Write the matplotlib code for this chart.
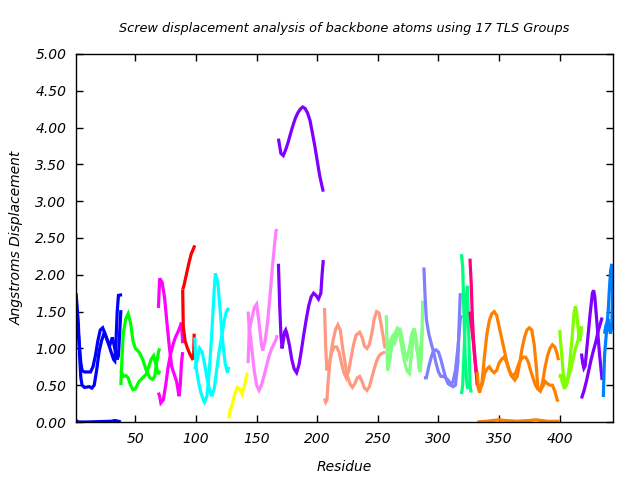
import matplotlib
matplotlib.use("Agg")
import matplotlib.pyplot as plt

# screw displacement per residue, (residue, angstroms)
# three principal screw axes per TLS group, when visible
g01_a = [(1, 1.75), (2, 1.55), (3, 1.3), (4, 0.9), (5, 0.6), (6, 0.5), (8, 0.47), (12, 0.48), (14, 0.46),
         (16, 0.5), (18, 0.7), (20, 0.95), (22, 1.1), (24, 1.2), (26, 1.15), (28, 1.05), (30, 0.95),
         (32, 0.85), (33, 0.83), (34, 1.1), (35, 1.5), (36, 1.72), (39, 1.73)]
g01_b = [(1, 1.55), (2, 1.5), (3, 1.2), (4, 1.0), (5, 0.8), (6, 0.7), (8, 0.68), (13, 0.68), (15, 0.75),
         (17, 0.9), (19, 1.1), (21, 1.25), (23, 1.28), (25, 1.2), (27, 1.1), (29, 1.05), (31, 1.15),
         (33, 1.0), (35, 0.85), (36, 0.9), (37, 1.2), (38, 1.52)]
g01_c = [(1, 0.02), (3, 0.0), (10, 0.0), (30, 0.01), (33, 0.02), (36, 0.01), (38, 0.0)]

g02_a = [(38, 0.5), (39, 0.9), (40, 1.2), (42, 1.4), (44, 1.47), (46, 1.35), (48, 1.1), (50, 1.0), (53, 0.95),
         (56, 0.85), (59, 0.7), (62, 0.6), (64, 0.58), (66, 0.62), (67, 0.75), (68, 0.85), (69, 0.95), (70, 1.0)]
g02_b = [(38, 0.7), (40, 0.62), (42, 0.63), (44, 0.6), (46, 0.5), (48, 0.44), (50, 0.45), (53, 0.55),
         (56, 0.6), (59, 0.65), (61, 0.75), (63, 0.85), (65, 0.9), (67, 0.78), (68, 0.7), (69, 0.65), (70, 0.7)]

g03_a = [(69, 1.55), (70, 1.95), (72, 1.9), (74, 1.7), (76, 1.35), (78, 1.02), (80, 0.75), (82, 0.65),
         (84, 0.55), (86, 0.35), (87, 0.5), (88, 0.8), (89, 0.95)]
g03_b = [(69, 0.4), (70, 0.35), (71, 0.26), (73, 0.3), (75, 0.5), (77, 0.75), (79, 0.92), (81, 1.05),
         (83, 1.15), (85, 1.22), (87, 1.3), (88, 1.35), (89, 1.07)]

g04_a = [(89, 1.8), (90, 1.85), (92, 2.0), (94, 2.15), (96, 2.28), (99, 2.4)]
g04_b = [(89, 1.8), (89.5, 1.3), (91, 1.1), (93, 1.0), (95, 0.92), (97, 0.86), (98, 0.87), (98.5, 1.2)]

g05_a = [(99, 1.15), (100, 0.75), (102, 0.55), (104, 0.4), (106, 0.3), (107, 0.27), (109, 0.35), (111, 0.7),
         (113, 1.2), (115, 1.8), (116, 2.02), (118, 1.9), (120, 1.5), (122, 1.1), (124, 0.8), (126, 0.67),
         (127, 0.75)]
g05_b = [(99, 0.72), (101, 0.85), (103, 1.0), (105, 0.95), (107, 0.8), (109, 0.6), (111, 0.45), (113, 0.35),
         (115, 0.45), (117, 0.7), (119, 0.95), (121, 1.15), (123, 1.35), (125, 1.5), (127, 1.55)]

g06_a = [(127, 0.05), (128, 0.15), (130, 0.25), (132, 0.38), (134, 0.47), (136, 0.45), (138, 0.38),
         (140, 0.5), (142, 0.65), (143, 0.66)]

g07_a = [(143, 1.5), (144, 1.25), (146, 1.4), (148, 1.55), (150, 1.6), (152, 1.35), (154, 1.05), (155, 0.97),
         (157, 1.1), (159, 1.35), (161, 1.7), (163, 2.1), (165, 2.45), (166, 2.6), (167, 2.62)]
g07_b = [(143, 0.8), (144, 1.3), (146, 1.0), (148, 0.7), (150, 0.5), (152, 0.43), (154, 0.5), (156, 0.62),
         (158, 0.75), (160, 0.88), (162, 0.98), (164, 1.05), (166, 1.12), (167, 1.18)]

g08_a = [(168, 3.85), (169, 3.75), (170, 3.65), (172, 3.62), (174, 3.7), (176, 3.8), (178, 3.92), (180, 4.03),
         (182, 4.13), (184, 4.2), (186, 4.25), (188, 4.28), (190, 4.26), (192, 4.2), (194, 4.1), (196, 3.93),
         (198, 3.75), (200, 3.55), (202, 3.35), (204, 3.2), (205, 3.13)]
g08_b = [(168, 2.15), (169, 1.6), (170, 1.2), (171, 1.0), (172, 1.1), (173, 1.22), (174, 1.25), (175, 1.2),
         (177, 1.05), (179, 0.85), (181, 0.72), (183, 0.67), (185, 0.78), (187, 0.98), (189, 1.2), (191, 1.4),
         (193, 1.58), (195, 1.7), (197, 1.75), (199, 1.72), (201, 1.67), (203, 1.75), (204, 2.0), (205, 2.2)]

g09_a = [(206, 1.55), (207, 1.0), (208, 0.7), (210, 0.8), (212, 0.95), (214, 1.02), (216, 1.02), (218, 0.95),
         (220, 0.8), (222, 0.67), (224, 0.6), (226, 0.7), (228, 0.88), (230, 1.05), (232, 1.18), (235, 1.22),
         (237, 1.15), (239, 1.03), (241, 1.0), (243, 1.05), (245, 1.2), (247, 1.4), (249, 1.5), (251, 1.48),
         (253, 1.3), (255, 1.1), (256, 1.0)]
g09_b = [(206, 0.32), (207, 0.27), (208, 0.3), (209, 0.55), (211, 0.9), (213, 1.1), (215, 1.25), (217, 1.32),
         (219, 1.25), (221, 1.0), (223, 0.8), (225, 0.62), (227, 0.52), (229, 0.47), (231, 0.52), (233, 0.6),
         (235, 0.62), (237, 0.55), (239, 0.46), (241, 0.43), (243, 0.48), (245, 0.6), (247, 0.72), (249, 0.83),
         (251, 0.9), (253, 0.93), (256, 0.95)]

g10_a = [(257, 1.45), (258, 0.7), (260, 0.85), (262, 1.1), (264, 1.2), (266, 1.27), (268, 1.2), (270, 1.0),
         (272, 0.82), (274, 0.7), (276, 0.66), (278, 0.95), (280, 1.27), (282, 1.1), (284, 0.72), (285, 0.68),
         (286, 0.9), (287, 1.65)]
g10_b = [(258, 0.95), (260, 1.1), (262, 1.16), (264, 1.08), (266, 1.18), (268, 1.28), (270, 1.15), (272, 0.95),
         (274, 0.87), (276, 1.0), (278, 1.2), (280, 1.27), (282, 1.0), (284, 0.85), (286, 1.1), (287, 1.3)]

g11_a = [(288, 2.1), (289, 1.7), (290, 1.4), (292, 1.2), (294, 1.07), (296, 0.95), (298, 0.8), (300, 0.68),
         (302, 0.62), (304, 0.62), (306, 0.6), (308, 0.57), (310, 0.52), (312, 0.48), (314, 0.5), (316, 0.8),
         (317, 1.3), (318, 1.75)]
g11_b = [(288, 0.6), (290, 0.6), (292, 0.75), (294, 0.88), (296, 0.97), (298, 0.98), (300, 0.95), (302, 0.85),
         (304, 0.72), (306, 0.6), (308, 0.52), (310, 0.5), (312, 0.55), (314, 0.7), (316, 1.0), (318, 1.4),
         (319, 1.45)]

g12_a = [(319, 2.28), (320, 2.1), (321, 1.5), (322, 0.9), (323, 0.6), (324, 0.45), (325, 0.55)]
g12_b = [(319, 0.38), (320, 0.5), (321, 0.9), (322, 1.3), (323, 1.7), (324, 1.85), (325, 1.2), (326, 0.5),
         (327, 0.4)]

g13_a = [(326, 2.22), (327, 1.9), (328, 1.4), (329, 1.1), (330, 0.9), (331, 0.7), (332, 0.5)]
g13_b = [(326, 1.5), (327, 1.35), (328, 1.2), (329, 1.05), (330, 0.85), (331, 0.7), (332, 0.6)]

g14_a = [(332, 0.68), (333, 0.45), (334, 0.4), (336, 0.55), (338, 0.9), (340, 1.2), (342, 1.38), (344, 1.47),
         (346, 1.5), (348, 1.45), (350, 1.3), (352, 1.15), (354, 1.0), (356, 0.85), (358, 0.72), (360, 0.63),
         (363, 0.57), (365, 0.62), (367, 0.8), (369, 1.0), (371, 1.15), (373, 1.25), (375, 1.28), (377, 1.25),
         (379, 1.05), (381, 0.7), (382, 0.45), (384, 0.42), (386, 0.55), (388, 0.75), (390, 0.9), (392, 1.0),
         (394, 1.05), (396, 1.02), (398, 0.92), (399, 0.84)]
g14_b = [(332, 0.5), (334, 0.45), (336, 0.5), (338, 0.65), (340, 0.72), (342, 0.75), (344, 0.7), (346, 0.67),
         (348, 0.7), (350, 0.8), (352, 0.85), (354, 0.88), (356, 0.82), (358, 0.72), (360, 0.65), (362, 0.63),
         (364, 0.68), (366, 0.78), (368, 0.85), (370, 0.88), (372, 0.88), (374, 0.82), (376, 0.7), (378, 0.6),
         (380, 0.5), (382, 0.45), (384, 0.43), (386, 0.48), (388, 0.55), (390, 0.52), (392, 0.5), (394, 0.5),
         (396, 0.42), (398, 0.3), (399, 0.28)]
g14_c = [(332, 0.0), (340, 0.01), (345, 0.02), (350, 0.03), (355, 0.02), (365, 0.01), (375, 0.02),
         (380, 0.03), (390, 0.01), (400, 0.01)]

g15_a = [(400, 1.25), (401, 1.05), (402, 0.85), (403, 0.65), (405, 0.48), (406, 0.52), (408, 0.75), (410, 1.1),
         (412, 1.5), (413, 1.57), (414, 1.5), (415, 1.3), (416, 1.15), (417, 1.1), (418, 1.3)]
g15_b = [(400, 0.6), (401, 0.65), (402, 0.55), (404, 0.45), (405, 0.5), (407, 0.6), (409, 0.7), (411, 0.85),
         (413, 1.0), (415, 1.1), (417, 1.25), (418, 1.3)]

g16_a = [(418, 0.93), (419, 0.8), (420, 0.73), (421, 0.76), (423, 1.1), (425, 1.45), (427, 1.75), (428, 1.79),
         (429, 1.7), (431, 1.3), (433, 0.9), (435, 0.57)]
g16_b = [(418, 0.32), (420, 0.42), (422, 0.55), (424, 0.7), (426, 0.85), (428, 0.98), (430, 1.1), (432, 1.25),
         (434, 1.36), (435, 1.42)]

g17_a = [(436, 0.34), (437, 0.9), (438, 1.1), (439, 1.3), (440, 1.5), (441, 1.8), (442, 2.05), (443, 2.15)]
g17_b = [(437, 1.2), (438, 1.3), (439, 1.35), (440, 1.4), (441, 1.25), (442, 1.2), (443, 1.3), (444, 2.1)]

group_colors = ["#0000ff", "#00ff00", "#ff00ff", "#ff0000", "#00ffff", "#ffff00", "#ff80ff", "#8000ff",
                "#ff9980", "#80ff80", "#8080ff", "#00ff80", "#ff0080", "#ff8000", "#80ff00", "#8000ff",
                "#0080ff"]
group_curves = [[g01_a, g01_b, g01_c], [g02_a, g02_b], [g03_a, g03_b], [g04_a, g04_b], [g05_a, g05_b],
                [g06_a], [g07_a, g07_b], [g08_a, g08_b], [g09_a, g09_b], [g10_a, g10_b], [g11_a, g11_b],
                [g12_a, g12_b], [g13_a, g13_b], [g14_a, g14_b, g14_c], [g15_a, g15_b], [g16_a, g16_b],
                [g17_a, g17_b]]

y_ticks = [0.0, 0.5, 1.0, 1.5, 2.0, 2.5, 3.0, 3.5, 4.0, 4.5, 5.0]
x_ticks = [50, 100, 150, 200, 250, 300, 350, 400]

plt.rcParams['font.family'] = ['DejaVu Sans']
plt.rcParams['font.style'] = 'italic'

fig = plt.figure(figsize=(6.4, 4.8), dpi=100)
ax = fig.add_axes([76 / 640, 1 - 422 / 480, 537 / 640, 368 / 480])

for color, curves in zip(group_colors, group_curves):
    for curve in curves:
        xs = [p[0] for p in curve]
        ys = [p[1] for p in curve]
        ax.plot(xs, ys, color=color, lw=2.3, solid_joinstyle='miter', solid_capstyle='butt')

ax.set_xlim(1, 444)
ax.set_ylim(0, 5)
ax.set_xticks(x_ticks)
ax.set_yticks(y_ticks)
ax.set_yticklabels(["%.2f" % v for v in y_ticks])
ax.tick_params(direction='in', length=5, width=1, top=True, right=True, labelsize=10, pad=7, colors='black')
for s in ax.spines.values():
    s.set_linewidth(1)

ax.set_title("Screw displacement analysis of backbone atoms using 17 TLS Groups", fontsize=9.3, pad=16)
ax.set_xlabel("Residue", fontsize=10, labelpad=10)
ax.set_ylabel("Angstroms Displacement", fontsize=10, labelpad=8)

fig.savefig("out.png", dpi=100)
